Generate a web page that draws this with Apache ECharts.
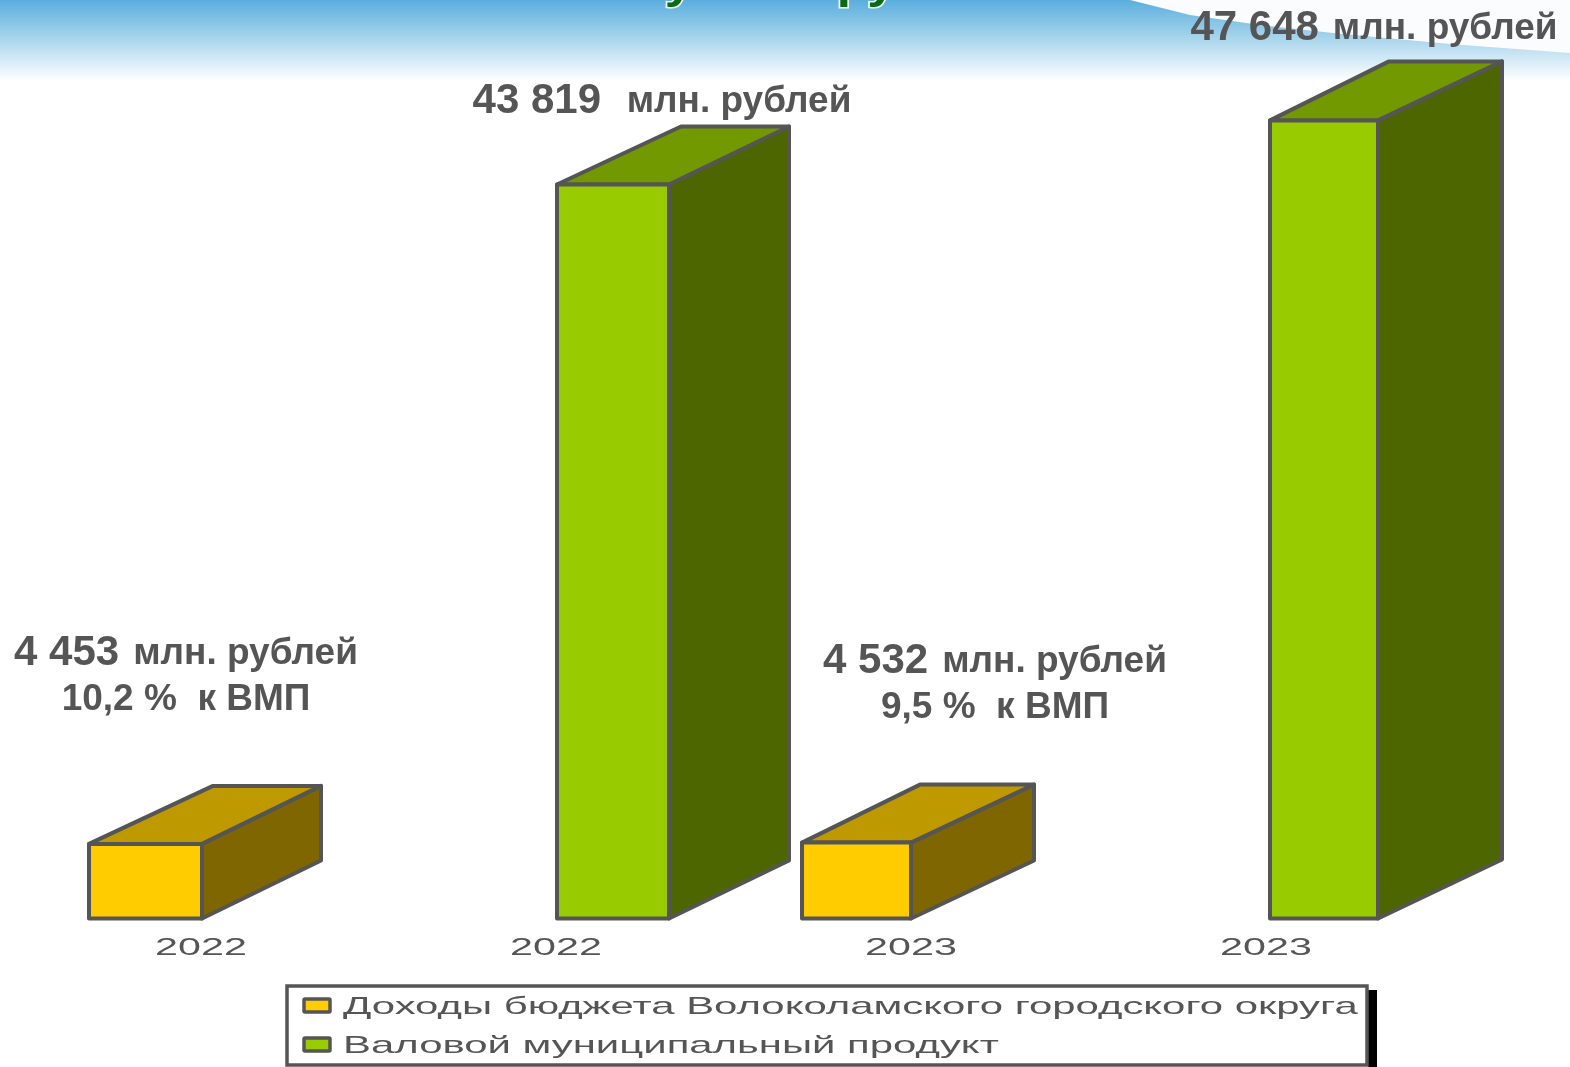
<!DOCTYPE html>
<html>
<head>
<meta charset="utf-8">
<title>Доходы бюджета и ВМП</title>
<script src="https://cdn.jsdelivr.net/npm/echarts@6/dist/echarts.min.js"></script>
<style>
  html, body { margin: 0; padding: 0; background: #fff; }
  #chart { width: 1570px; height: 1067px; }
</style>
</head>
<body>
<div id="chart"></div>
<script>
// data
const categories = ["2022", "2022", "2023", "2023"]
const budgetName = "Доходы бюджета Волоколамского городского округа"
const vmpName = "Валовой муниципальный продукт"
const budgetValues = [4453, null, 4532, null]
const vmpValues = [null, 43819, null, 47648]
const valueTexts = ["4 453", "43 819 ", "4 532", "47 648"]
const shareTexts = ["10,2 %  к ВМП", null, "9,5 %  к ВМП", null]
const unitText = "млн. рублей"

// layout per category, px relative to the tick / the value point
const boxLeft = [-111, 2, -108, 5]
const boxWidth = [113, 112, 109, 108]
const backLeft = [124, 124, 118, 119]
const backRight = [119, 120, 123, 124]
const boxRise = [58, 58, 58, 59]
const labelShift = [[-14, -167], [107, -83], [85, -158], [109, -92]]

const textGrey = "#555555"
const budgetColors = { front: "#ffcc00", top: "#bf9900", side: "#806600" }
const vmpColors = { front: "#99cc00", top: "#729900", side: "#4d6600" }

function renderBox(colors) {
  return function (params, api) {
    const i = params.dataIndex
    const tick = api.coord([i, 0])
    const value = api.value(1)
    if (isNaN(value)) {
      return { type: "group", children: [] }
    }
    const label = {
      type: "text",
      x: tick[0] + 1,
      y: tick[1] + 30,
      scaleX: 1.72,
      style: {
        text: categories[i],
        fill: textGrey,
        font: "24px 'Liberation Sans'",
        align: "center",
        verticalAlign: "middle"
      }
    }
    const top = api.coord([i, value])
    const x0 = tick[0] + boxLeft[i]
    const x1 = x0 + boxWidth[i]
    const y0 = top[1]
    const y1 = tick[1]
    const dl = backLeft[i]
    const dr = backRight[i]
    const dy = boxRise[i]
    const line = { stroke: textGrey, lineWidth: 4, lineJoin: "round" }
    const face = (points, fill) => ({
      type: "polygon",
      shape: { points },
      style: Object.assign({ fill }, line)
    })
    let text = `{v|${valueTexts[i]}}{u|${unitText}}`
    if (shareTexts[i]) {
      text += `\n{s|${shareTexts[i]}}`
    }
    return {
      type: "group",
      children: [
        face([[x1, y0], [x1 + dr, y0 - dy], [x1 + dr, y1 - dy], [x1, y1]], colors.side),
        face([[x0, y0], [x0 + dl, y0 - dy], [x1 + dr, y0 - dy], [x1, y0]], colors.top),
        face([[x0, y0], [x1, y0], [x1, y1], [x0, y1]], colors.front),
        label,
        {
          type: "text",
          x: tick[0] + labelShift[i][0],
          y: top[1] + labelShift[i][1],
          style: {
            text,
            align: "center",
            verticalAlign: "middle",
            fill: textGrey,
            rich: {
              v: { font: "bold 42px 'Liberation Sans'", fill: textGrey, lineHeight: 46, padding: [0, 14, 0, 0] },
              u: { font: "bold 37px 'Liberation Sans'", fill: textGrey, lineHeight: 46 },
              s: { font: "bold 37px 'Liberation Sans'", fill: textGrey, lineHeight: 46 }
            }
          }
        }
      ]
    }
  }
}

function legendRow(name, y, color) {
  return [
    {
      type: "rect",
      shape: { x: 304, y: y - 7, width: 26, height: 13, r: 1 },
      style: { fill: color, stroke: textGrey, lineWidth: 3.5 }
    },
    {
      type: "text",
      x: 343,
      y: y + 1,
      scaleX: 1.745,
      style: {
        text: name,
        fill: textGrey,
        font: "24px 'Liberation Sans'",
        align: "left",
        verticalAlign: "middle"
      }
    }
  ]
}

const option = {
  animation: false,
  backgroundColor: "#fff",
  grid: { left: 22.5, width: 1420, top: 81, height: 837.5 },
  xAxis: {
    type: "category",
    data: categories,
    axisLine: { show: false },
    axisTick: { show: false },
    axisLabel: { show: false }
  },
  yAxis: {
    type: "value",
    min: 0,
    max: 50000,
    show: false
  },
  graphic: [
    {
      type: "rect",
      z: -10,
      shape: { x: 0, y: 0, width: 1570, height: 81 },
      style: {
        fill: {
          type: "linear", x: 0, y: 0, x2: 0, y2: 1,
          colorStops: [
            { offset: 0, color: "#5aaedd" },
            { offset: 0.45, color: "#a4d3ec" },
            { offset: 1, color: "#ffffff" }
          ]
        }
      }
    },
    {
      // white swoosh in the top right corner
      type: "polygon",
      z: -9,
      shape: {
        points: [[1130, 0], [1190, 15], [1260, 25], [1333, 33], [1450, 44], [1570, 53], [1570, 0]]
      },
      style: { fill: "#fbfcfd" }
    },
    {
      // title is cut off by the top edge of the picture
      type: "text",
      z: -8,
      x: 803,
      y: 8,
      scaleX: 1.16,
      style: {
        text: "у млн. руб.",
        font: "bold 44px 'Liberation Sans'",
        align: "center",
        verticalAlign: "bottom",
        fill: "#0b6a16",
        stroke: "#f2f7ee",
        lineWidth: 3,
        shadowColor: "rgba(15,30,50,0.9)",
        shadowBlur: 7,
        shadowOffsetY: 12
      }
    },
    {
      type: "rect",
      shape: { x: 1368, y: 990, width: 9, height: 77 },
      style: { fill: "#000" }
    },
    {
      type: "rect",
      shape: { x: 287, y: 986, width: 1080, height: 79 },
      style: { fill: "#fff", stroke: textGrey, lineWidth: 3.5 }
    },
    ...legendRow(budgetName, 1006, budgetColors.front),
    ...legendRow(vmpName, 1045, vmpColors.front)
  ],
  series: [
    {
      name: budgetName,
      type: "custom",
      renderItem: renderBox(budgetColors),
      data: budgetValues.map((v, i) => [i, v])
    },
    {
      name: vmpName,
      type: "custom",
      renderItem: renderBox(vmpColors),
      data: vmpValues.map((v, i) => [i, v])
    }
  ]
}

const chart = echarts.init(document.getElementById("chart"))
chart.setOption(option)
</script>
</body>
</html>
